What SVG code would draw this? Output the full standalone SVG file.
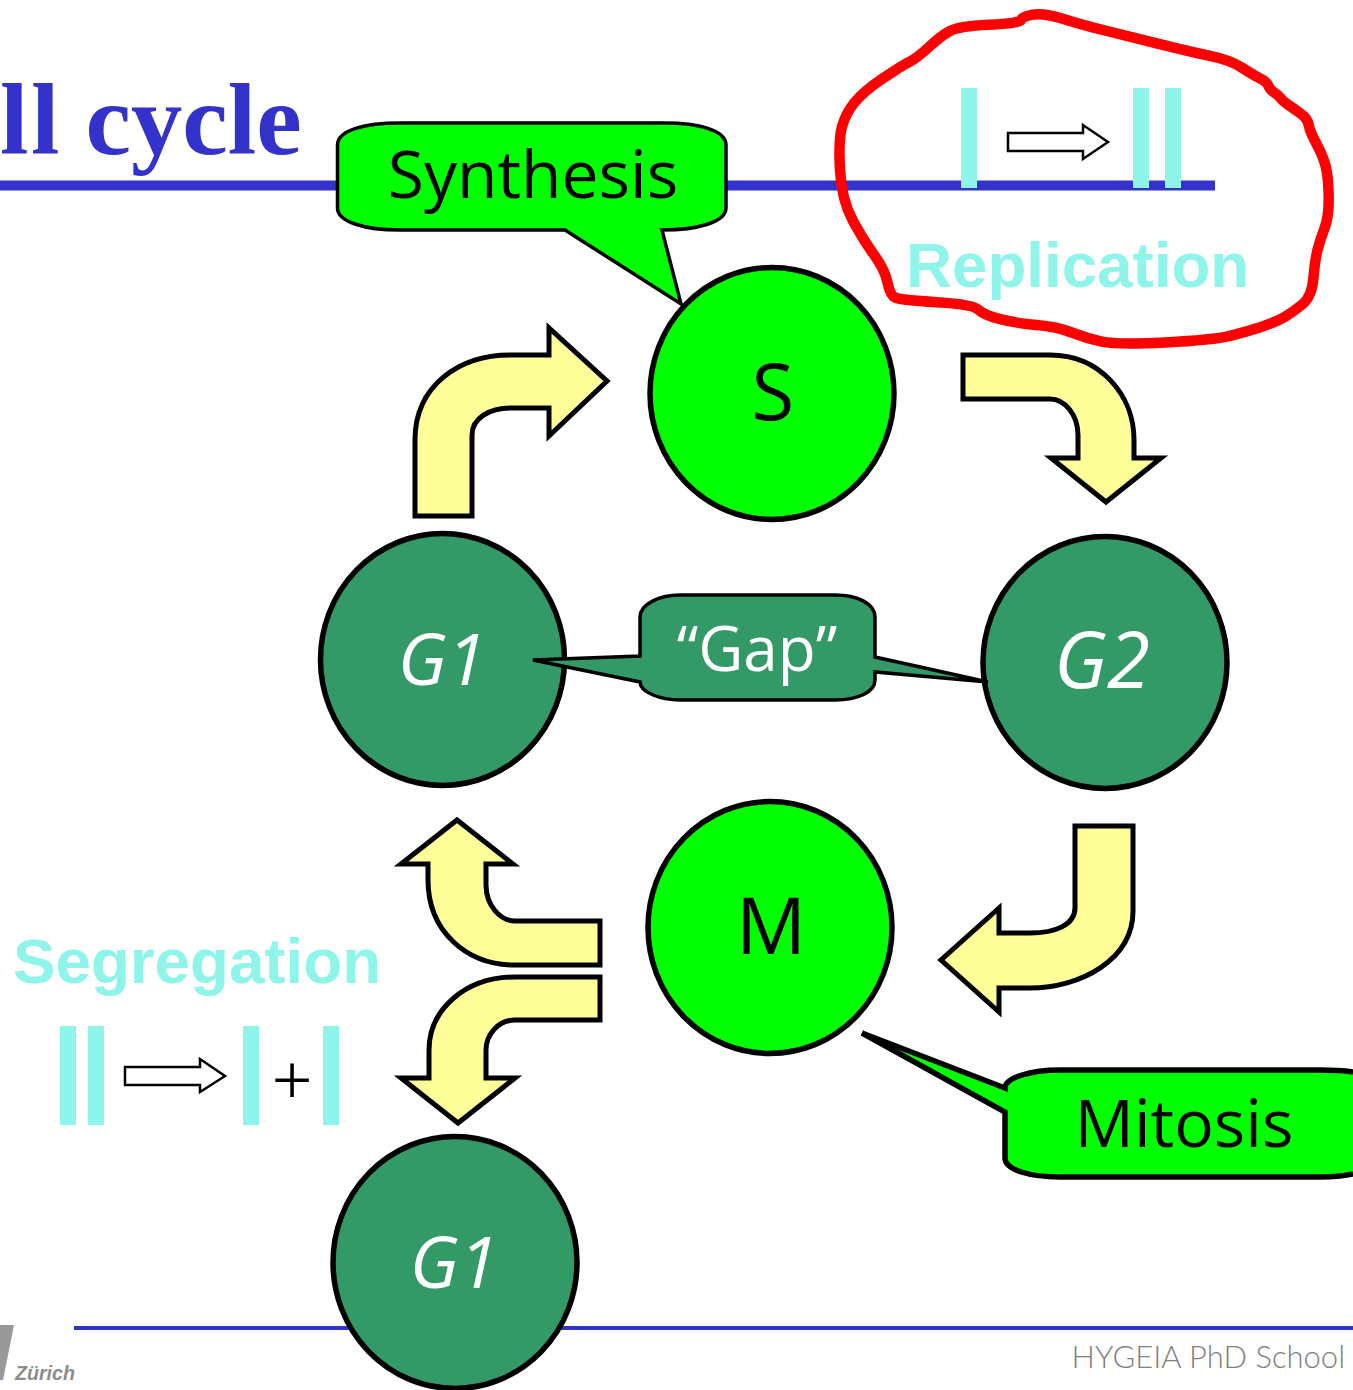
<svg xmlns="http://www.w3.org/2000/svg" width="1353" height="1390" viewBox="0 0 1353 1390">
<style>
.bar{fill:#8ff5ea}
.cyan{fill:#8ff5ea;font:bold 63.7px "Liberation Sans",Arial,sans-serif}
.line{fill:#3333cc}
.light{fill:#00ff00;stroke:#000;stroke-width:5.5}
.dark{fill:#339966;stroke:#000;stroke-width:5.5}
.flow{fill:#ffff99;stroke:#000;stroke-width:5;stroke-linejoin:miter}
.small{fill:#fff;stroke:#000;stroke-width:2.5}
.lab{font-family:"Open Sans","DejaVu Sans",sans-serif;text-anchor:middle}
.blk{fill:#000}
.wht{fill:#fff}
</style>
<rect width="1353" height="1390" fill="#fff"/>
<g id="title">
<rect class="line" x="0" y="180.5" width="1215" height="10"/>
<text x="0" y="154" font-family="Liberation Serif,serif" font-weight="bold" font-size="102.500" fill="#3333cc"><tspan letter-spacing="2.500">ll</tspan><tspan dx="-2"> cycle</tspan></text>
</g>
<g id="footer">
<rect class="line" x="74" y="1326" width="1279" height="4"/>
<polygon points="0,1325 14,1325 3,1380 0,1380" fill="#999"/>
<text x="15" y="1380" font-family="Liberation Sans,sans-serif" font-weight="bold" font-style="italic" font-size="19.6" fill="#8c8c8c">Zürich</text>
<text x="1345" y="1368" text-anchor="end" font-family="Lato,sans-serif" font-weight="300" font-size="31" fill="#808080">HYGEIA PhD School</text>
</g>
<g id="replication">
<rect class="bar" x="961" y="88" width="16" height="100"/>
<rect class="bar" x="1133" y="88" width="16" height="100"/>
<rect class="bar" x="1165" y="88" width="16" height="100"/>
<polygon class="small" points="1008,133 1083,133 1083,125 1108,142 1083,159 1083,151 1008,151"/>
<text class="cyan" x="906" y="287">Replication</text>
<path id="red-outline" fill="none" stroke="#ff0000" stroke-width="10.5" stroke-linejoin="round" d="M949.2,31.4 Q958.3,26 989.2,24.7 1020,23.3 1020.9,20 1021.7,16.7 1032.5,14.7 1043.3,12.7 1065,19.4 1086.7,26 1105,30.5 1123.3,35 1156.7,43.4 1190,51.7 1210,55.9 1230,60 1241.7,67.5 1253.3,75 1260,78.4 1266.7,81.7 1268.4,85.9 1270,90 1274.2,92.5 1278.3,95 1280.8,98.4 1283.3,101.7 1293.3,108.4 1303.3,115 1305.8,118.4 1308.3,121.7 1309.2,126.7 1310,131.7 1316.7,144.2 1323.3,156.7 1325.8,166.7 1328.3,176.7 1328.7,196.7 1329,216.7 1324.5,228.4 1320,240 1317.5,250 1315,260 1313.4,278.4 1311.7,296.7 1302.5,304.2 1293.3,311.7 1285,316.7 1276.7,321.7 1261.7,326.7 1246.7,331.7 1230,335.9 1213.3,340 1165,342.5 1116.7,345 1101.7,341.7 1086.7,338.3 1071.7,332.5 1056.7,326.7 1036.7,325 1016.7,323.3 1000,319.2 983.3,315 978.3,309.7 973.3,304.3 936.7,302.2 900,300 895,297.5 890,295 887.5,282.5 885,270 874.2,255 863.3,240 852.5,220 841.7,200 840,170 838.3,140 842,126.7 845.7,113.3 854.5,102.5 863.3,91.7 882.5,78.7 901.7,65.7 909.2,62 916.7,58.3 928.4,47.5 940,36.7 949.2,31.4Z"/>
</g>
<g id="segregation">
<text class="cyan" x="13" y="983">Segregation</text>
<rect class="bar" x="60" y="1026" width="16" height="99"/>
<rect class="bar" x="88" y="1026" width="16" height="99"/>
<rect class="bar" x="243" y="1026" width="16" height="99"/>
<rect class="bar" x="323" y="1026" width="16" height="99"/>
<polygon class="small" points="125,1067 200,1067 200,1059 225,1076 200,1092 200,1085 125,1085"/>
<text x="292" y="1104" text-anchor="middle" font-family="Liberation Serif,serif" font-size="72" fill="#000">+</text>
</g>
<g id="connectors">
<path class="flow" d="M415,516 V440 C415,385 460,355 510,355 H549 V328 L607,381 L549,436 V408 H510 C490,408 472,418 472,435 V516Z"/>
<path class="flow" d="M963,355 H1050 C1100,355 1134,395 1134,440 V458 H1161 L1106,502 L1051,458 H1078 V435 C1078,415 1065,399 1050,399 H963Z"/>
<path class="flow" d="M1075,826 H1133 V911 C1133,960 1080,988 1030,988 H999 V1012 L941,960 L999,908 V933 H1030 C1055,933 1075,925 1075,908Z"/>
<path class="flow" d="M600,921 V965 H515 C465,965 428,930 428,880 V864 H401 L457,820 L513,864 H486 V885 C486,905 500,921 515,921Z"/>
<path class="flow" d="M600,977 V1020 H515 C498,1020 486,1035 486,1050 V1078 H515 L458,1123 L401,1078 H429 V1050 C429,1010 465,977 515,977Z"/>
</g>
<g id="node-s"><ellipse class="light" cx="772" cy="393.5" rx="122" ry="126"/><text class="lab blk" x="773" y="420" font-size="78">S</text></g>
<g id="node-g1-top"><ellipse class="dark" cx="442.500" cy="659.500" rx="122" ry="126"/><text class="lab wht" x="442" y="685" font-size="72" font-style="italic">G1</text></g>
<g id="node-g2"><ellipse class="dark" cx="1105" cy="662.500" rx="122" ry="126"/><text class="lab wht" x="1102" y="688" font-size="78" font-style="italic">G2</text></g>
<g id="node-m"><ellipse class="light" cx="770" cy="927.500" rx="122" ry="126"/><text class="lab blk" x="771" y="954" font-size="78">M</text></g>
<g id="node-g1-bottom"><ellipse class="dark" cx="455" cy="1262.500" rx="122" ry="126"/><text class="lab wht" x="454" y="1288" font-size="72" font-style="italic">G1</text></g>
<g id="callout-synthesis">
<path class="light" style="stroke-width:3.5" stroke-linejoin="miter" d="M337.500,145 C337.500,130 365,123 400,123 H665 C698,123 726,130 726,145 V208 C726,222 698,230 662,230 L681,304 L565,230 H400 C365,230 337.500,222 337.500,208Z"/>
<text class="lab blk" x="533" y="198" font-size="66">Synthesis</text>
</g>
<g id="callout-gap">
<path class="dark" style="stroke-width:3.500" d="M640,617 C640,604 660,595 680,595 H835 C858,595 875,604 875,617 V657 L988,682 L875,672 V680 C875,692 858,700 835,700 H680 C660,700 640,692 640,682 L533,660 L640,656Z"/>
<text class="lab wht" x="757" y="671" font-size="62">“Gap”</text>
</g>
<g id="callout-mitosis">
<path class="light" stroke-linejoin="miter" d="M1353,1072 C1340,1070 1330,1070 1320,1070 H1060 C1030,1070 1005,1078 1005,1088 L862,1033 L1005,1112 V1158 C1005,1170 1030,1177 1060,1177 H1320 C1330,1177 1340,1177 1353,1174"/>
<text class="lab blk" x="1184" y="1147" font-size="66">Mitosis</text>
</g>
</svg>
